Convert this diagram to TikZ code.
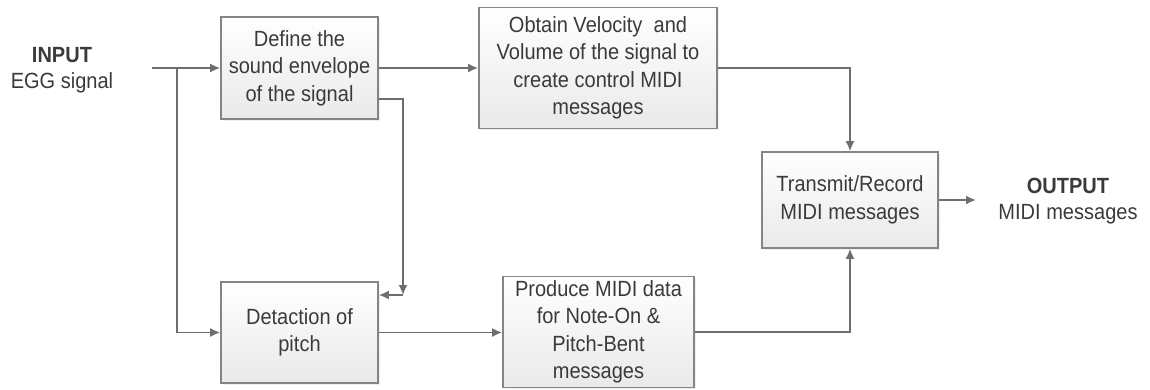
\documentclass[tikz,border=0pt]{standalone}
\usepackage{fontspec}
\setmainfont{Liberation Sans}[FakeStretch=0.91]
\usetikzlibrary{
  arrows.meta,%
  positioning,%
  calc,%
  % soft shadow under the blocks
  shadows
}
\definecolor{linegray}{HTML}{6E6E6E}
\definecolor{boxgray}{HTML}{858585}
\definecolor{textgray}{HTML}{3A3A3A}
\tikzset{>={Latex[length=10pt,width=9pt]}}
\tikzset{font=\fontsize{22}{27.5}\selectfont}
\tikzset{stage/.style={draw=boxgray, line width=1.6pt, top color=white,
    bottom color=gray!17, align=center, text=textgray, inner sep=0pt,
    drop shadow={opacity=0.12, shadow xshift=1.5pt, shadow yshift=-1.5pt}}}
\tikzset{flow/.style={draw=linegray, line width=1.7pt, ->}}
\tikzset{label/.style={text=textgray, align=center, inner sep=0pt}}

\begin{document}
\begin{tikzpicture}[x=1pt,y=-1pt]
  \useasboundingbox (0,0) rectangle (1150,389);
  % input and output texts
  \node[label] (inhead) at (62,55) {\textbf{INPUT}};
  \node[label] (inname) at (62,83) {EGG signal};
  \node[label] (outhead) at (1068,186) {\textbf{OUTPUT}};
  \node[label] (outname) at (1068,214) {MIDI messages};
  % processing blocks
  \node[stage, minimum width=157pt, minimum height=102pt] (envelope) at (299.5,68)
    {Define the\\ sound envelope\\ of the signal};
  \node[stage, minimum width=238pt, minimum height=121pt] (velocity) at (598,68)
    {Obtain Velocity\ \ and\\ Volume of the signal to\\ create control MIDI\\ messages};
  \node[stage, minimum width=157pt, minimum height=101pt] (pitch) at (299.5,332.5)
    {Detaction of\\ pitch};
  \node[stage, minimum width=191pt, minimum height=111pt] (notes) at (598.5,332)
    {Produce MIDI data\\ for Note-On \&\\ Pitch-Bent\\ messages};
  \node[stage, minimum width=176pt, minimum height=96pt] (record) at (850,200)
    {Transmit/Record\\ MIDI messages};
  % free ends of the connectors
  \coordinate (in) at (152,68);
  \coordinate (split) at (177,68);
  \coordinate (tap) at ($(envelope.east)+(0,31)$);
  \coordinate (bend) at (403,295);
  \coordinate (out) at (976,200);
  % connectors
  \draw[flow] (in) -- (envelope.west);
  \draw[flow] (split) |- (pitch.west);
  \draw[flow] (envelope.east) -- (velocity.west);
  \draw[flow] (tap) -| (bend);
  \draw[flow] (bend) -- (bend -| pitch.east);
  \draw[flow] (pitch.east) -- (pitch.east -| notes.west);
  \draw[flow] (velocity.east) -| (record.north);
  \draw[flow] (notes.east) -| (record.south);
  \draw[flow] (record.east) -- (out);
\end{tikzpicture}
\end{document}
